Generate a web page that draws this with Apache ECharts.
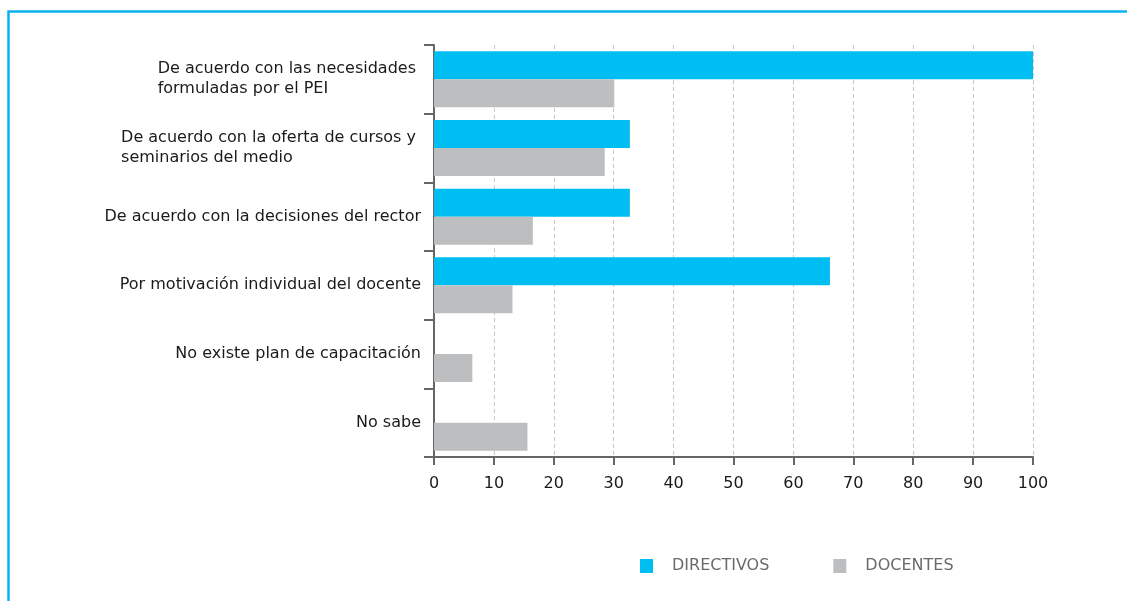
<!DOCTYPE html>
<html>
<head>
<meta charset="utf-8">
<script src="https://cdn.jsdelivr.net/npm/echarts@6/dist/echarts.min.js"></script>
<style>
html, body { margin: 0; padding: 0; background: #fff; }
#main { width: 1127px; height: 601px; }
</style>
</head>
<body>
<div id="main"></div>
<script>
// categorias de arriba hacia abajo
var categories = [
    'De acuerdo con las necesidades\nformuladas por el PEI',
    'De acuerdo con la oferta de cursos y\nseminarios del medio',
    'De acuerdo con la decisiones del rector',
    'Por motivación individual del docente',
    'No existe plan de capacitación',
    'No sabe'
];
var seriesNames = ['DIRECTIVOS', 'DOCENTES'];
var directivos = [100, 32.7, 32.7, 66.1, 0, 0];
var docentes = [30.1, 28.5, 16.5, 13.1, 6.4, 15.6];
var xTicks = [0, 10, 20, 30, 40, 50, 60, 70, 80, 90, 100];

var FONT = 'DejaVu Sans';
var myChart = echarts.init(document.getElementById('main'));

var option = {
    animation: false,
    textStyle: { fontFamily: FONT },
    graphic: [{
        type: 'polyline',
        silent: true,
        shape: { points: [[8.5, 601], [8.5, 11.5], [1127, 11.5]] },
        style: { stroke: '#0AB3EE', lineWidth: 2.5, fill: null }
    }],
    legend: {
        data: seriesNames,
        left: 640,
        top: 558,
        padding: 0,
        icon: 'rect',
        itemWidth: 13,
        itemHeight: 14,
        itemGap: 64,
        textStyle: { color: '#6a6a6a', fontSize: 16, fontFamily: FONT, padding: [0, 0, 0, 14] }
    },
    grid: {
        left: 434,
        right: 94,
        top: 45,
        bottom: 144,
        outerBoundsMode: 'none'
    },
    xAxis: {
        type: 'value',
        min: xTicks[0],
        max: xTicks[xTicks.length - 1],
        interval: 10,
        axisLine: { show: true, lineStyle: { color: '#666', width: 2 } },
        axisTick: { show: true, length: 8, lineStyle: { color: '#666', width: 2 } },
        axisLabel: { color: '#1a1a1a', fontSize: 16, fontFamily: FONT, margin: 19 },
        splitLine: { show: true, lineStyle: { color: '#c8c8c8', type: [4, 3], width: 1 } }
    },
    yAxis: {
        type: 'category',
        inverse: true,
        data: categories,
        axisLine: { show: true, lineStyle: { color: '#666', width: 2 } },
        axisTick: { show: true, length: 10, lineStyle: { color: '#666', width: 2 } },
        axisLabel: {
            margin: 13,
            color: '#1a1a1a',
            fontSize: 16,
            fontFamily: FONT,
            formatter: function (v) {
                var lines = v.split('\n');
                if (lines.length === 1) return v;
                return lines.map(function (l) { return '{b|' + l + '}'; }).join('\n');
            },
            rich: {
                b: { align: 'left', fontSize: 16, fontFamily: FONT, lineHeight: 20, color: '#1a1a1a', padding: [0, 5, 0, 0] }
            }
        }
    },
    series: [
        {
            name: seriesNames[0],
            type: 'bar',
            data: directivos,
            barWidth: 28,
            barGap: '0%',
            itemStyle: { color: '#00BEF2' }
        },
        {
            name: seriesNames[1],
            type: 'bar',
            data: docentes,
            barWidth: 28,
            barGap: '0%',
            itemStyle: { color: '#BDBEC0' }
        }
    ]
};
myChart.setOption(option);
</script>
</body>
</html>
